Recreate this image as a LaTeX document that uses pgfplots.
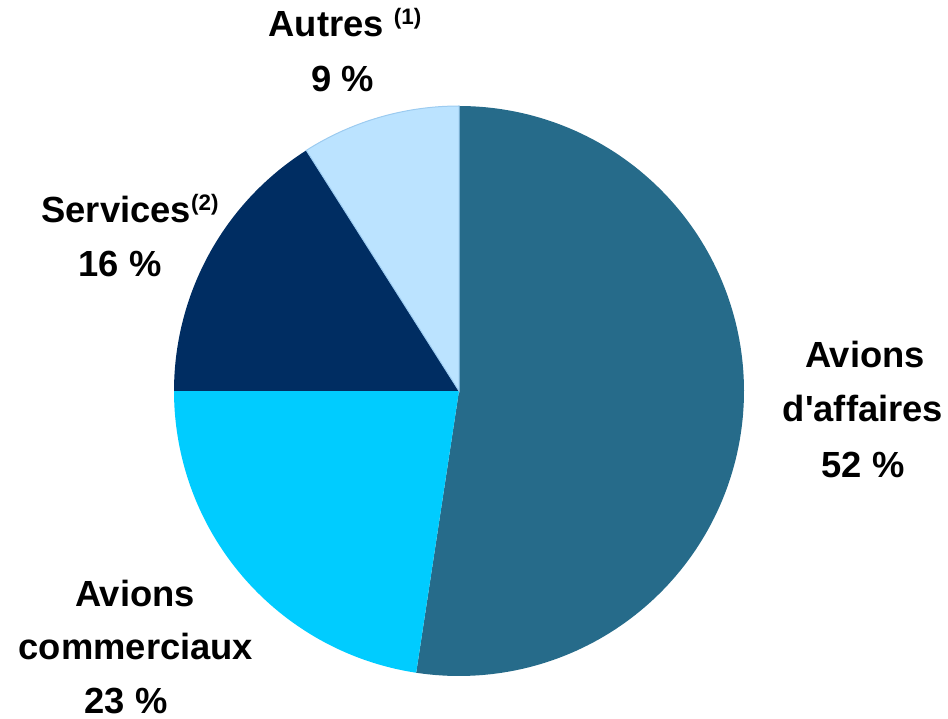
\documentclass[border=0pt]{standalone}
\usepackage{pgfplots}
\pgfplotsset{compat=1.18}
\usepackage{fontspec}
\setmainfont{Liberation Sans}
\definecolor{affaires}{HTML}{266B8A}
\definecolor{commerciaux}{HTML}{00CCFF}
\definecolor{services}{HTML}{002D62}
\definecolor{autres}{HTML}{BBE3FF}
\definecolor{autresline}{HTML}{9CCBF0}
\newcommand{\sups}[1]{\raisebox{12bp}{\fontsize{22.5}{22.5}\selectfont #1}}
\begin{document}
\begin{tikzpicture}
% shares in percent
\def\vA{52.4}% Avions d'affaires
\def\vB{22.6}% Avions commerciaux
\def\vC{16.0}% Services
\def\vD{9.0}%  Autres
\pgfmathsetmacro\aA{90}
\pgfmathsetmacro\aB{90-3.6*\vA}
\pgfmathsetmacro\aC{\aB-3.6*\vB}
\pgfmathsetmacro\aD{\aC-3.6*\vC}
\pgfmathsetmacro\aE{\aD-3.6*\vD}
\begin{axis}[hide axis, scale only axis, width=948bp, height=719bp,
  xmin=0, xmax=948, ymin=0, ymax=719, clip=false]
\path (axis cs:0,0) rectangle (axis cs:948,719);
\addplot[fill=affaires, draw=none, domain=\aB:\aA, samples=150] ({459+285*cos(x)},{328+285*sin(x)}) -- (axis cs:459,328) -- cycle;
\addplot[fill=commerciaux, draw=none, domain=\aC:\aB, samples=80] ({459+285*cos(x)},{328+285*sin(x)}) -- (axis cs:459,328) -- cycle;
\addplot[fill=services, draw=none, domain=\aD:\aC, samples=60] ({459+285*cos(x)},{328+285*sin(x)}) -- (axis cs:459,328) -- cycle;
\addplot[fill=autres, draw=autresline, line width=1bp, domain=\aE:\aD, samples=40] ({459+285*cos(x)},{328+285*sin(x)}) -- (axis cs:459,328) -- cycle;
\tikzset{lab/.style={anchor=base, inner sep=0pt, font=\bfseries\fontsize{36.5}{36.5}\selectfont}}
\node[lab] at (axis cs:865,351) {Avions};
\node[lab] at (axis cs:863,297) {d\textquotesingle affaires};
\node[lab] at (axis cs:863,241) {52 \%};
\node[lab] at (axis cs:345,682) {Autres \sups{(1)}};
\node[lab] at (axis cs:343,627) {9 \%};
\node[lab] at (axis cs:130,496) {Services\sups{(2)}};
\node[lab] at (axis cs:120,442) {16 \%};
\node[lab] at (axis cs:135,112) {Avions};
\node[lab] at (axis cs:136,59) {commerciaux};
\node[lab] at (axis cs:126,6) {23 \%};
\end{axis}
\end{tikzpicture}
\end{document}
